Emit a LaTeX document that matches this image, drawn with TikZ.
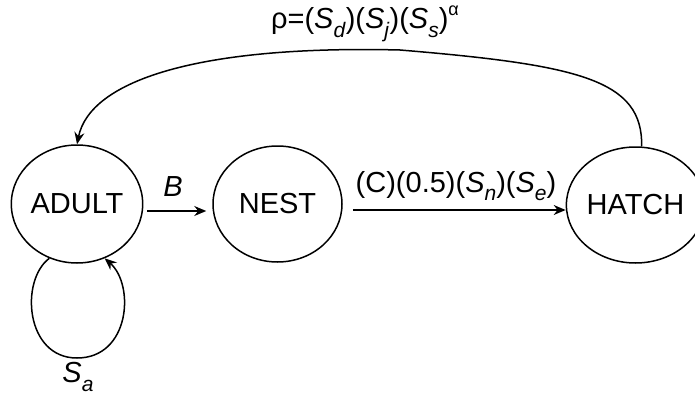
\documentclass[tikz,border=0pt]{standalone}
\usepackage{fontspec}
\setmainfont{Liberation Sans}
\usetikzlibrary{shapes.geometric,arrows.meta}
\newcommand\Sx[2]{\textit{#1}\raisebox{-0.3em}{\fontsize{21}{22}\selectfont\textit{#2}}}
\begin{document}
\begin{tikzpicture}[x=1pt,y=-1pt,
  state/.style={draw,ellipse,line width=1.5pt,inner sep=0pt,font=\fontsize{29}{33}\selectfont},
  conn/.style={line width=1.5pt,-{Stealth[length=12pt,width=10pt,inset=4pt]}},
  lbl/.style={font=\fontsize{29}{33}\selectfont,inner sep=0pt}]
\useasboundingbox (0,0) rectangle (695,396);
\node[state,minimum width=128pt,minimum height=118pt] (adult) at (77,204) {ADULT};
\node[state,minimum width=129pt,minimum height=116pt] (nest) at (277.5,204) {NEST};
\node[state,minimum width=117pt,minimum height=116pt] (hatch) at (635.5,205) {HATCH};
\draw[conn] ([shift={(4,7)}]adult.east) -- ([shift={(-6,7)}]nest.west);
\node[lbl] (lb) at (173,187) {\textit{B}};
\draw[conn] ([shift={(10,6)}]nest.east) -- ([shift={(0,5)}]hatch.west);
\node[lbl] (lc) at (456,186) {(C)(0.5)(\Sx{S}{n})(\Sx{S}{e})};
\draw[conn] (hatch.84) .. controls (643,80) and (580,65) .. (400,50)
  .. controls (200,45) and (90,80) .. (adult.north);
\node[lbl] (lr) at (365,24) {ρ=(\Sx{S}{d})(\Sx{S}{j})(\Sx{S}{s})\raisebox{0.45em}{\fontsize{18}{19}\selectfont α}};
\draw[conn] (adult.243) .. controls (20,280) and (25,358) .. (77,358)
  .. controls (130,358) and (135,285) .. (adult.297);
\node[lbl] (ls) at (78,377) {\Sx{S}{a}};
\end{tikzpicture}
\end{document}
